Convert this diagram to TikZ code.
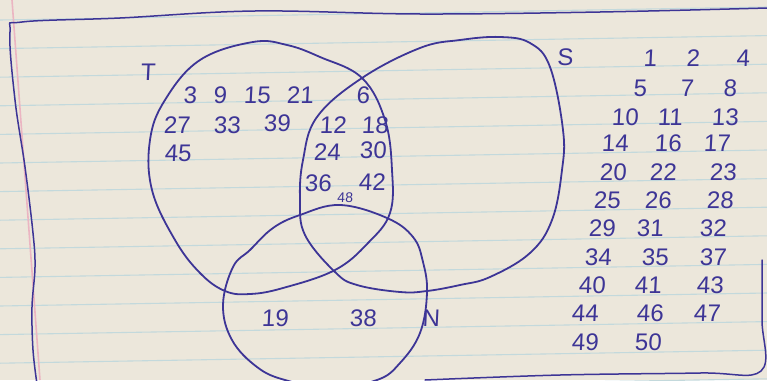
\documentclass[tikz,border=0pt]{standalone}
\usepackage{fontspec}
\newfontfamily\hand[FakeSlant=0.05]{Liberation Sans}
\definecolor{paper}{HTML}{ECE7DB}
\definecolor{ink}{HTML}{3D3596}
\definecolor{ruleblue}{HTML}{C3D9DC}
\definecolor{marginpink}{HTML}{EBB5C2}
\begin{document}
\begin{tikzpicture}[x=1pt,y=-1pt,
  num/.style={font=\hand\fontsize{24}{24}\selectfont, text=ink, inner sep=0pt, anchor=center},
  small/.style={font=\hand\fontsize{14}{14}\selectfont, text=ink, inner sep=0pt},
  pen/.style={draw=ink, line width=1.8pt, line join=round, line cap=round}]
\fill[paper] (0,0) rectangle (767,380);
\useasboundingbox (0,0) rectangle (767,380);
% ruled lines
\foreach \k in {0,...,13}
  \draw[ruleblue, line width=1.1pt] (0,{20+28.6*\k}) -- (767,{7+28.6*\k});
\draw[marginpink, line width=1.6pt] (12,0) -- (40,380);
% border
\draw[pen, line width=1.5pt] plot[smooth, tension=0.6] coordinates {(767,8) (600,12) (420,14) (255,11) (120,18) (22,22) (10,32) (15,100) (25,167) (33,233) (35,267) (32,307) (33,350) (37,384)};
\draw[pen, line width=1.5pt] plot[smooth, tension=0.6] coordinates {(425,380) (560,375) (700,373) (761,371) (762,320) (762,260)};
% set T
\draw[pen] plot[smooth cycle, tension=0.65] coordinates {(253,42) (287,45) (320,57) (362,78) (385,120) (392,170) (390,213) (368,243) (335,270) (283,288) (250,294) (225,291) (200,273) (175,240) (152,190) (150,140) (165,100) (200,60)};
% set S
\draw[pen] plot[smooth cycle, tension=0.65] coordinates {(420,48) (362,78) (317,117) (303,160) (300,200) (305,235) (335,272) (357,285) (400,292) (427,291) (460,285) (490,277) (530,253) (552,220) (562,170) (563,130) (550,67) (530,43) (500,37) (460,40)};
% set N
\draw[pen] plot[smooth cycle, tension=0.65] coordinates {(340,205) (387,218) (413,237) (423,262) (427,293) (420,333) (400,363) (377,380) (330,388) (285,380) (257,367) (232,340) (223,305) (233,267) (250,250) (273,228) (300,215)};
% labels
\node[num] (lblT) at (148,72) {T};
\node[num] (lblS) at (565,57) {S};
\node[num] (lblN) at (431,318) {N};
% elements
\foreach \t/\x/\y in {3/190/95, 9/220/95, 15/257/95, 21/300/95, 27/177/125, 33/227/125, 39/277/123, 45/178/153,
  6/363/95, 12/333/125, 18/375/125, 24/327/152, 30/373/150, 36/318/183, 42/372/182,
  19/275/318, 38/363/318,
  1/650/58, 2/693/58, 4/743/58,
  5/640/88, 7/687/88, 8/730/88,
  10/625/117, 11/670/117, 13/725/117,
  14/615/143, 16/668/143, 17/717/143,
  20/613/172, 22/663/172, 23/723/172,
  25/607/200, 26/658/200, 28/720/200,
  29/602/228, 31/650/228, 32/713/228,
  34/598/257, 35/655/257, 37/713/257,
  40/592/285, 41/648/285, 43/710/285,
  44/585/313, 46/650/313, 47/707/313,
  49/585/342, 50/648/342}
  \node[num] (n\t) at (\x,\y) {\t};
\node[small] (n48) at (345,198) {48};
\end{tikzpicture}
\end{document}
